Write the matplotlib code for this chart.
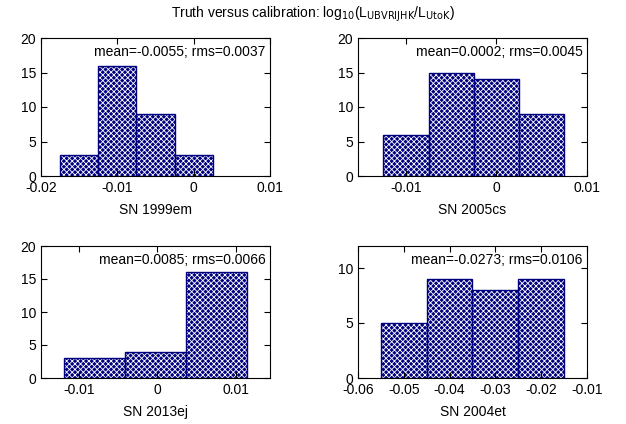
import matplotlib
matplotlib.use("Agg")
import matplotlib.pyplot as plt

plt.rcParams['font.family'] = ['Liberation Sans', 'DejaVu Sans']
plt.rcParams['hatch.linewidth'] = 0.6

names = ["SN 1999em", "SN 2005cs", "SN 2013ej", "SN 2004et"]
edges = [[-0.0175, -0.0125, -0.0075, -0.0025, 0.0025],
         [-0.0125, -0.0075, -0.0025, 0.0025, 0.0075],
         [-0.0120, -0.0042, 0.0036, 0.0115],
         [-0.055, -0.045, -0.035, -0.025, -0.015]]
counts = [[3, 16, 9, 3], [6, 15, 14, 9], [3, 4, 16], [5, 9, 8, 9]]
stats = ["mean=-0.0055; rms=0.0037", "mean=0.0002; rms=0.0045",
         "mean=0.0085; rms=0.0066", "mean=-0.0273; rms=0.0106"]
xlims = [(-0.02, 0.01), (-0.0153, 0.01), (-0.0149, 0.0144), (-0.06, -0.01)]
xticks = [[-0.02, -0.01, 0, 0.01], [-0.01, 0, 0.01], [-0.01, 0, 0.01],
          [-0.06, -0.05, -0.04, -0.03, -0.02, -0.01]]
ylims = [20, 20, 20, 12]
yticks = [[0, 5, 10, 15, 20], [0, 5, 10, 15, 20], [0, 5, 10, 15, 20], [0, 5, 10]]

fig = plt.figure(figsize=(6.26, 4.24), dpi=100)
W, H = 626, 424
boxes = [(40, 38, 270, 176), (275, 38, 274 + 0, 176), (40, 246, 270, 378), (275, 246, 274, 378)]
boxes = [(41, 38, 270, 176), (358, 38, 587, 176), (41, 246, 270, 378), (358, 246, 587, 378)]

def fmt(v):
    if abs(v) < 1e-12:
        return "0"
    return ("%g" % v)

for i in range(4):
    x0, y0, x1, y1 = boxes[i]
    ax = fig.add_axes([x0 / W, 1 - y1 / H, (x1 - x0) / W, (y1 - y0) / H])
    e = edges[i]
    c = counts[i]
    lefts = e[:-1]
    widths = [e[k + 1] - e[k] for k in range(len(c))]
    ax.bar(lefts, c, width=widths, align='edge', facecolor='#00007f',
           edgecolor='white', hatch='xxxxxx', linewidth=0)
    ax.bar(lefts, c, width=widths, align='edge', facecolor='none',
           edgecolor='#00007f', linewidth=1.0)
    ax.set_xlim(*xlims[i])
    ax.set_ylim(0, ylims[i])
    ax.set_xticks(xticks[i])
    ax.set_xticklabels([fmt(v) for v in xticks[i]])
    ax.set_yticks(yticks[i])
    ax.tick_params(direction='in', top=True, right=True, labelsize=10, length=4)
    ax.set_xlabel(names[i], fontsize=10, labelpad=6)
    ax.text(0.98, 0.95, stats[i], transform=ax.transAxes, ha='right', va='top', fontsize=10)

fig.text(0.5, 0.965, r"Truth versus calibration: log$_{10}$(L$_{\mathrm{UBVRIJHK}}$/L$_{\mathrm{UtoK}}$)",
         ha='center', va='center', fontsize=10)
plt.rcParams['mathtext.fontset'] = 'custom'
fig.savefig("out.png", dpi=100)
